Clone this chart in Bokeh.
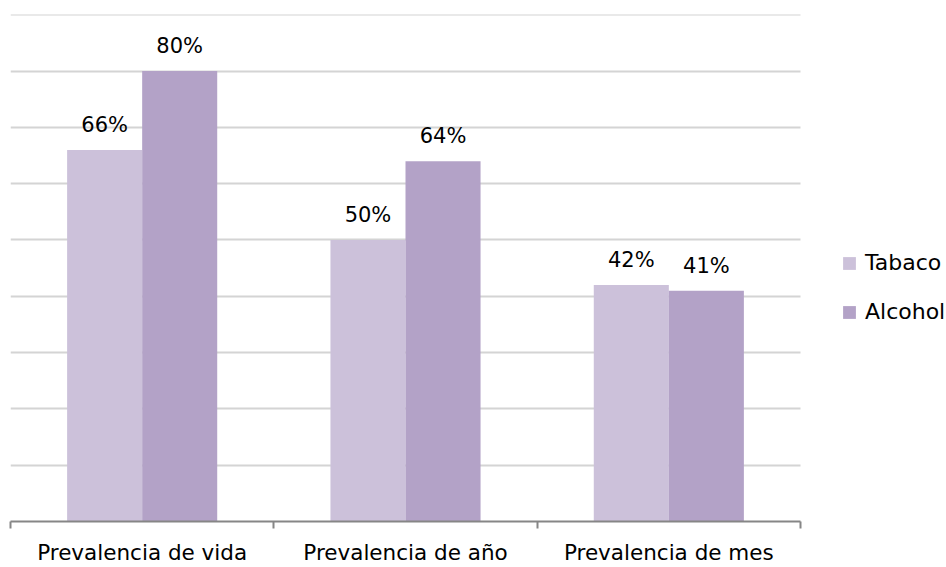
from bokeh.plotting import figure
from bokeh.models import ColumnDataSource, Range1d, FixedTicker, Legend, LegendItem
from bokeh.core.properties import value
from bokeh.embed import file_html
from bokeh.resources import INLINE

# Prevalence of tobacco and alcohol use
categories = ["Prevalencia de vida", "Prevalencia de año", "Prevalencia de mes"]
series_names = ["Tabaco", "Alcohol"]
tabaco = [0.66, 0.50, 0.42]
alcohol = [0.80, 0.64, 0.41]
grid_ticks = [0.1, 0.2, 0.3, 0.4, 0.5, 0.6, 0.7, 0.8, 0.9]

FONT = "DejaVu Sans"
TXT = "21px"
colors = ["#CCC1DA", "#B3A2C7"]
bar_w = 0.285

n_cat = len(categories)
centers = [i + 0.5 for i in range(n_cat)]

# plot area spans the whole width; axis and grid are bounded to the categories,
# the space to the right of them holds the legend
PLOT_W, LEFT = 946, 10
cat_px = 790 / n_cat
x_end = (PLOT_W - LEFT) / cat_px

p = figure(width=PLOT_W, height=567, output_backend="svg", toolbar_location=None,
           x_range=Range1d(0, x_end), y_range=Range1d(0, 0.9005),
           min_border_left=LEFT, min_border_right=0, min_border_top=14,
           min_border_bottom=0)
p.outline_line_color = None
p.background_fill_color = "white"
p.border_fill_color = "white"

renderers = []
for k, (name, vals, col) in enumerate(zip(series_names, [tabaco, alcohol], colors)):
    off = (k - 0.5) * bar_w
    src = ColumnDataSource(dict(
        x=[c + off for c in centers],
        top=vals,
        label=[f"{round(v * 100)}%" for v in vals],
    ))
    r = p.vbar(x="x", top="top", width=bar_w, bottom=0, source=src,
               fill_color=col, line_color=None)
    renderers.append((name, r))
    p.text(x="x", y="top", text="label", source=src, text_align="center",
           text_baseline="alphabetic", y_offset=-25, text_font=value(FONT),
           text_font_size=TXT, text_color="#000000")

# y axis hidden, gridlines only
p.yaxis.visible = False
p.ygrid.ticker = FixedTicker(ticks=grid_ticks)
p.ygrid.cross_bounds = (0, n_cat)
p.ygrid.grid_line_color = "#D4D4D4"
p.ygrid.grid_line_width = 2
p.xgrid.visible = False

ax = p.xaxis[0]
ax.bounds = (0, n_cat)
ax.ticker = FixedTicker(ticks=centers, minor_ticks=list(range(n_cat + 1)))
ax.major_label_overrides = {c: lab for c, lab in zip(centers, categories)}
ax.major_tick_out = 0
ax.major_tick_in = 0
ax.minor_tick_out = 7
ax.minor_tick_in = 0
ax.minor_tick_line_color = "#868686"
ax.minor_tick_line_width = 2
ax.axis_line_color = "#868686"
ax.axis_line_width = 2
ax.major_label_standoff = 11
ax.major_label_text_line_height = 0.8
ax.major_label_text_font = FONT
ax.major_label_text_font_size = "21.5px"
ax.major_label_text_color = "#000000"

legend = Legend(items=[LegendItem(label=n, renderers=[r]) for n, r in renderers],
                location=(831, 197), orientation="vertical",
                glyph_width=16, glyph_height=16, label_standoff=8,
                spacing=24, padding=0, margin=0,
                label_text_font=FONT, label_text_font_size="22px",
                label_text_color="#000000",
                background_fill_alpha=0, border_line_color=None)
p.add_layout(legend, "center")

open("out.html", "w").write(file_html(p, INLINE))
